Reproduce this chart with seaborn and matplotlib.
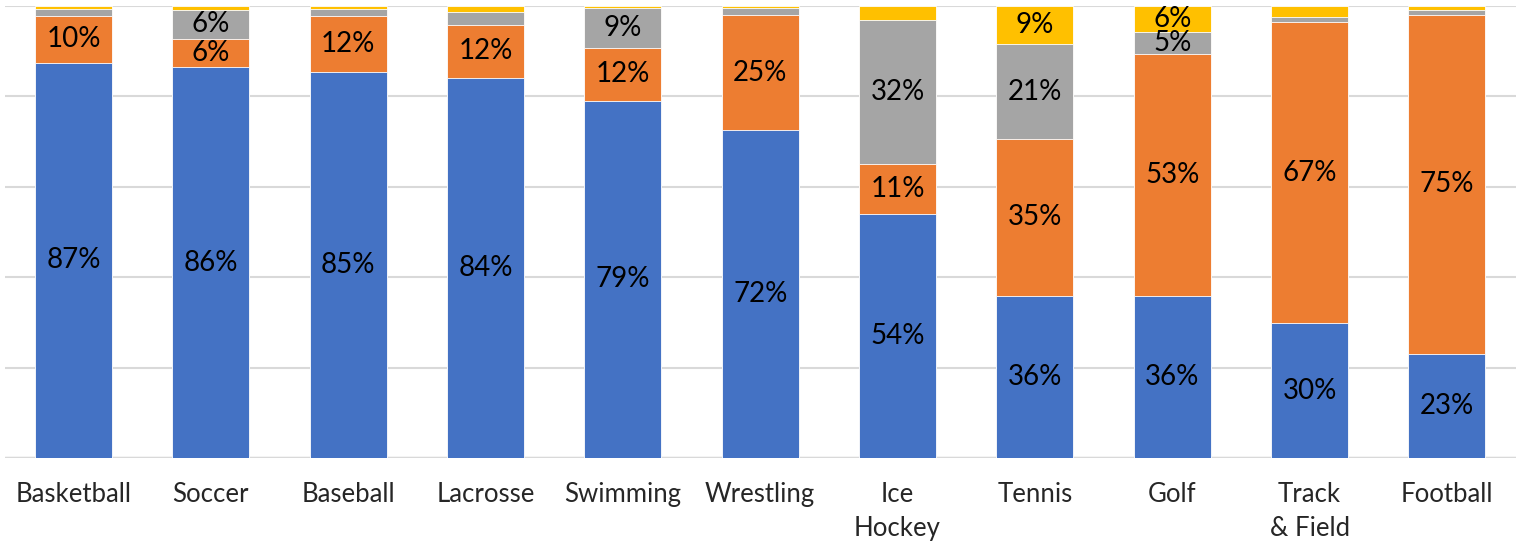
import matplotlib.pyplot as plt
import pandas as pd
import seaborn as sns
import numpy as np

# Data (percent of athletes per sport)
sports = ['Basketball', 'Soccer', 'Baseball', 'Lacrosse', 'Swimming', 'Wrestling',
          'Ice\nHockey', 'Tennis', 'Golf', 'Track\n& Field', 'Football']
blue = [87.4, 86.4, 85.4, 84.0, 79.0, 72.4, 54.0, 35.8, 35.8, 29.8, 23.0]
orange = [10.2, 6.3, 12.3, 11.8, 11.7, 25.4, 11.0, 34.8, 53.4, 66.6, 75.0]
gray = [1.6, 6.3, 1.6, 2.7, 8.8, 1.6, 31.8, 20.8, 5.0, 1.0, 1.1]
yellow = [0.8, 1.0, 0.7, 1.5, 0.5, 0.6, 3.2, 8.6, 5.8, 2.6, 0.9]

series = [blue, orange, gray, yellow]
colors = ['#4472C4', '#ED7D31', '#A5A5A5', '#FFC000']

df = pd.DataFrame({'sport': sports})
cum = np.cumsum(np.array(series), axis=0)

sns.set_style('white')
plt.rcParams['font.family'] = ['Lato', 'DejaVu Sans']

fig = plt.figure(figsize=(15.23, 5.43), dpi=100)
ax = fig.add_axes([0.00315, 0.1565, 0.992, 0.8333])

# stacked bars: draw cumulative totals from the top down
for k in range(len(series) - 1, -1, -1):
    df['val'] = cum[k]
    sns.barplot(data=df, x='sport', y='val', color=colors[k], width=0.56,
                edgecolor='white', linewidth=0.6, saturation=1, ax=ax, zorder=2)

# value labels
for k, vals in enumerate(series):
    for i, v in enumerate(vals):
        if v >= 4.5:
            ax.text(i, cum[k][i] - v / 2, f'{round(v):.0f}%', ha='center', va='center',
                    fontsize=20, color='black', zorder=3)

ax.set_ylim(0, 100)
ax.set_xlim(-0.5, len(sports) - 0.5)
ax.set_yticks(np.arange(0, 101, 20))
ax.set_yticklabels([])
ax.tick_params(axis='y', length=0)
ax.tick_params(axis='x', length=0, pad=17, labelsize=18.5)
for lab in ax.get_xticklabels():
    lab.set_linespacing(1.45)
ax.grid(axis='y', color='#D9D9D9', linewidth=1.5, zorder=0)
ax.set_axisbelow(True)
for s in ax.spines.values():
    s.set_visible(False)
ax.axhline(0, color='#D9D9D9', linewidth=2.5, zorder=1)
ax.set_xlabel('')
ax.set_ylabel('')

fig.savefig('out.png', dpi=100)
